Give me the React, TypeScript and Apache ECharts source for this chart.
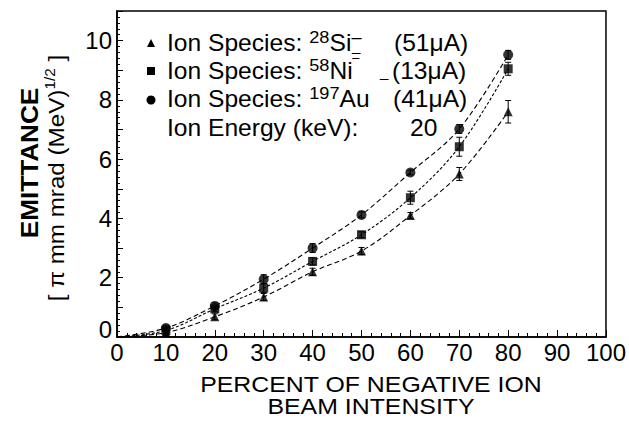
import React, { useEffect, useRef } from 'react';
import * as echarts from 'echarts';

// Beam intensity (% of negative ion beam)
const percentX = [10, 20, 30, 40, 50, 60, 70, 80];
// Emittance values
const siEmittance = [0.15, 0.68, 1.35, 2.2, 2.9, 4.1, 5.5, 7.6];
const niEmittance = [0.22, 0.95, 1.65, 2.55, 3.45, 4.7, 6.42, 9.05];
const auEmittance = [0.3, 1.05, 1.95, 3.0, 4.12, 5.55, 7.02, 9.52];
// Error bar half-heights
const siError = [0.1, 0.1, 0.12, 0.12, 0.12, 0.1, 0.22, 0.38];
const niError = [0.1, 0.1, 0.15, 0.12, 0.1, 0.22, 0.32, 0.22];
const auError = [0.1, 0.1, 0.15, 0.15, 0.1, 0.08, 0.15, 0.15];
// Fitted curves start at the origin
const fitOrigin: [number, number] = [0, 0];

const FONT = '"Liberation Sans", Arial, sans-serif';

function pts(vals: number[]) {
  return percentX.map((x, i) => [x, vals[i]]);
}
function errPts(vals: number[], errs: number[]) {
  return percentX.map((x, i) => [x, vals[i], errs[i]]);
}

const errorRender = (params: any, api: any) => {
  const x = api.value(0);
  const y = api.value(1);
  const e = api.value(2);
  const top = api.coord([x, y + e]);
  const bot = api.coord([x, y - e]);
  const st = { stroke: '#000', lineWidth: 1 };
  return {
    type: 'group',
    children: [
      { type: 'line', shape: { x1: top[0], y1: top[1], x2: bot[0], y2: bot[1] }, style: st },
      { type: 'line', shape: { x1: top[0] - 3, y1: top[1], x2: top[0] + 3, y2: top[1] }, style: st },
      { type: 'line', shape: { x1: bot[0] - 3, y1: bot[1], x2: bot[0] + 3, y2: bot[1] }, style: st },
    ],
  };
};

function curve(name: string, vals: number[], dash: number[]) {
  return {
    name: name + ' fit',
    type: 'line',
    data: [fitOrigin, ...pts(vals)],
    smooth: 0.35,
    showSymbol: false,
    symbol: 'none',
    lineStyle: { color: '#000', width: 1.1, type: dash },
    silent: true,
    z: 2,
  };
}

function points(name: string, vals: number[], symbol: string, size: number) {
  return {
    name,
    type: 'scatter',
    data: pts(vals),
    symbol,
    symbolSize: size,
    itemStyle: { color: '#000' },
    z: 4,
  };
}

function errors(name: string, vals: number[], errs: number[]) {
  return {
    name: name + ' error',
    type: 'custom',
    data: errPts(vals, errs),
    renderItem: errorRender,
    encode: { x: 0, y: 1 },
    z: 3,
  };
}

const LS = 1.07;
const t = { fontSize: 23, fontFamily: FONT, fill: '#000', lineHeight: 28, verticalAlign: 'middle' };
const s = { fontSize: 17, fontFamily: FONT, fill: '#000', lineHeight: 17, verticalAlign: 'top' };

function legendLine(y: number, text: string) {
  return {
    type: 'text',
    x: 167,
    y,
    scaleX: LS,
    style: { text, rich: { t, s }, verticalAlign: 'middle', align: 'left', fill: '#000' },
    z: 10,
  };
}
function plain(x: number, y: number, text: string, size = 23, sx = LS) {
  return {
    type: 'text',
    x,
    y,
    scaleX: sx,
    style: { text, fontSize: size, fontFamily: FONT, fill: '#000', verticalAlign: 'middle', align: 'left' },
    z: 10,
  };
}

export default function App() {
  const ref = useRef<HTMLDivElement>(null);
  useEffect(() => {
    if (!ref.current) return;
    const chart = echarts.init(ref.current, undefined, { renderer: 'svg' });
    const option: any = {
      animation: false,
      backgroundColor: '#fff',
      grid: { left: 117, top: 11, width: 491, height: 326, show: true, borderColor: '#000', borderWidth: 1.5, backgroundColor: 'transparent' },
      xAxis: {
        type: 'value',
        min: 0,
        max: 100,
        interval: 10,
        axisLine: { show: true, lineStyle: { color: '#000', width: 1.5 } },
        axisTick: { show: true, inside: true, length: 7, lineStyle: { color: '#000', width: 1 } },
        minorTick: { show: true, splitNumber: 5, length: 4, lineStyle: { color: '#000', width: 1 } },
        splitLine: { show: false },
        axisLabel: { color: '#000', fontSize: 24, fontFamily: FONT, margin: 3 },
      },
      yAxis: {
        type: 'value',
        min: 0,
        max: 11,
        interval: 1,
        axisLine: { show: true, lineStyle: { color: '#000', width: 1.5 } },
        axisTick: { show: true, inside: true, length: 6, lineStyle: { color: '#000', width: 1 } },
        minorTick: { show: true, splitNumber: 5, length: 3, lineStyle: { color: '#000', width: 1 } },
        splitLine: { show: false },
        axisLabel: {
          color: '#000',
          fontSize: 24,
          fontFamily: FONT,
          margin: 5,
          formatter: (v: number) => (v === 0 ? '{z|0}' : v % 2 === 0 && v <= 10 ? String(v) : ''),
          rich: { z: { fontSize: 24, fontFamily: FONT, color: '#000', padding: [0, 0, 16, 0] } },
        },
      },
      series: [
        curve('Si', siEmittance, [5, 3]),
        curve('Ni', niEmittance, [3, 2]),
        curve('Au', auEmittance, [5, 3]),
        errors('Si', siEmittance, siError),
        errors('Ni', niEmittance, niError),
        errors('Au', auEmittance, auError),
        points('28Si-', siEmittance, 'triangle', 9),
        points('58Ni-', niEmittance, 'rect', 9),
        points('197Au', auEmittance, 'circle', 10),
      ],
      graphic: [
        // legend markers
        { type: 'polygon', shape: { points: [[151, 39], [155, 47], [147, 47]] }, style: { fill: '#000' }, z: 10 },
        { type: 'rect', shape: { x: 147, y: 67, width: 8, height: 8 }, style: { fill: '#000' }, z: 10 },
        { type: 'circle', shape: { cx: 151, cy: 100, r: 4.5 }, style: { fill: '#000' }, z: 10 },
        legendLine(43, '{t|Ion Species: }{s|28}{t|Si}{s|–}'),
        legendLine(71, '{t|Ion Species: }{s|58}{t|Ni}{s|‾}'),
        legendLine(99, '{t|Ion Species: }{s|197}{t|Au}'),
        plain(352, 45, '_', 15, 1),
        plain(380, 71, '_', 15, 1),
        plain(394, 43, '(51μA)'),
        plain(392, 71, '(13μA)'),
        plain(393, 99, '(41μA)'),
        plain(167, 128, 'Ion Energy (keV):'),
        plain(410, 128, '20'),
        // axis titles
        {
          type: 'text',
          x: 29,
          y: 163,
          rotation: Math.PI / 2,
          scaleX: 1.09,
          style: { text: 'EMITTANCE', fontSize: 24, fontWeight: 'bold', fontFamily: FONT, fill: '#000', align: 'center', verticalAlign: 'middle' },
        },
        {
          type: 'text',
          x: 56,
          y: 178,
          rotation: Math.PI / 2,
          scaleX: 1.1,
          style: {
            text: '{a|[ π mm mrad (MeV)}{b|1/2}{a| ]}',
            align: 'center',
            verticalAlign: 'middle',
            rich: {
              a: { fontSize: 22, fontFamily: FONT, fill: '#000', lineHeight: 26, verticalAlign: 'middle' },
              b: { fontSize: 14, fontFamily: FONT, fill: '#000', lineHeight: 14, verticalAlign: 'top' },
            },
          },
        },
        {
          type: 'text',
          x: 371,
          y: 395,
          scaleX: 1.13,
          style: {
            text: 'PERCENT OF NEGATIVE ION\nBEAM INTENSITY',
            fontSize: 22,
            lineHeight: 22,
            fontFamily: FONT,
            fill: '#000',
            align: 'center',
            verticalAlign: 'middle',
          },
        },
      ],
    };
    chart.setOption(option);
    return () => chart.dispose();
  }, []);
  return <div ref={ref} style={{ width: 629, height: 422, position: 'absolute', left: 0, top: 0 }} />;
}
